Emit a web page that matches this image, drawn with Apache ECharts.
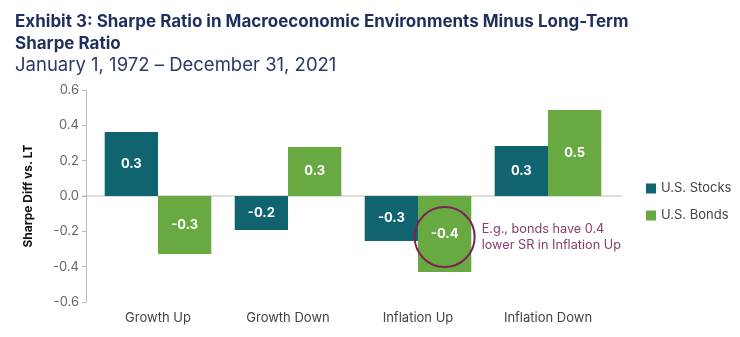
<!DOCTYPE html>
<html><head><meta charset="utf-8">
<script src="https://cdn.jsdelivr.net/npm/echarts@6/dist/echarts.min.js"></script>
<style>html,body{margin:0;padding:0;background:#fff}#c{width:740px;height:337px}</style>
</head><body><div id="c"></div>
<script>
const categories = ['Growth Up', 'Growth Down', 'Inflation Up', 'Inflation Down'];
const stocksValues = [0.362, -0.192, -0.255, 0.283];
const bondsValues = [-0.328, 0.277, -0.43, 0.487];
const stocksLabels = ['0.3', '-0.2', '-0.3', '0.3'];
const bondsLabels = ['-0.3', '0.3', '-0.4', '0.5'];
const yTicks = [-0.6, -0.4, -0.2, 0.0, 0.2, 0.4, 0.6];
const annotationText = 'E.g., bonds have 0.4\nlower SR in Inflation Up';
const annotationCoord = ['Inflation Up', -0.232];

const FONT = 'Inter, "Noto Sans", sans-serif';
const chart = echarts.init(document.getElementById('c'), null, {renderer: 'canvas'});
const labelStyle = (arr) => ({
  show: true, position: 'inside', color: '#fff', fontWeight: 'bold', fontSize: 13, fontFamily: FONT,
  formatter: p => arr[p.dataIndex]
});
chart.setOption({
  animation: false,
  textStyle: {fontFamily: FONT},
  title: [
    {text: 'Exhibit 3: Sharpe Ratio in Macroeconomic Environments Minus Long-Term\nSharpe Ratio', left: 10, top: 6,
     textStyle: {color: '#1f2f5c', fontSize: 17, fontWeight: 'bold', lineHeight: 22, fontFamily: FONT}},
    {text: 'January 1, 1972 – December 31, 2021', left: 10, top: 51,
     textStyle: {color: '#2a3a68', fontSize: 18.5, fontWeight: 'normal', fontFamily: FONT}}
  ],
  legend: {
    orient: 'vertical', left: 641, top: 177, itemWidth: 10, itemHeight: 10, itemGap: 14,
    icon: 'rect', textStyle: {color: '#444', fontSize: 13, fontFamily: FONT},
    data: ['U.S. Stocks', 'U.S. Bonds']
  },
  grid: {left: 93, right: 127, top: 90, bottom: 35},
  xAxis: {
    type: 'category', data: categories,
    axisLine: {show: false}, axisTick: {show: false},
    axisLabel: {position: 'bottom', color: '#444', fontSize: 13, margin: 10, fontFamily: FONT},
    position: 'bottom'
  },
  yAxis: {
    type: 'value', min: -0.6, max: 0.6, interval: 0.2, offset: 7,
    name: 'Sharpe Diff vs. LT', nameLocation: 'middle', nameGap: 52, nameRotate: 90,
    nameTextStyle: {color: '#111', fontSize: 12, fontWeight: 'bold', fontFamily: FONT},
    axisLine: {show: true, lineStyle: {color: '#bbb'}},
    axisTick: {show: true, length: 4, lineStyle: {color: '#bbb'}},
    splitLine: {show: false},
    axisLabel: {color: '#666', fontSize: 13, margin: 7, fontFamily: FONT,
      formatter: v => { const t = yTicks.find(x => Math.abs(x - v) < 1e-9); return (t === undefined ? v : t).toFixed(1); }}
  },
  series: [
    {name: 'U.S. Stocks', type: 'bar', data: stocksValues, barGap: '0%', barCategoryGap: '18%',
     itemStyle: {color: '#0f6470'}, label: labelStyle(stocksLabels)},
    {name: 'U.S. Bonds', type: 'bar', data: bondsValues, barGap: '0%', barCategoryGap: '18%',
     itemStyle: {color: '#69a942'}, label: labelStyle(bondsLabels),
     markPoint: {
       symbol: 'circle', symbolSize: 60, silent: true,
       itemStyle: {color: 'rgba(0,0,0,0)', borderColor: '#7a2358', borderWidth: 2},
       label: {show: true, position: 'right', distance: 6, formatter: annotationText,
         color: '#8a3c6c', fontSize: 12.7, lineHeight: 16, fontFamily: FONT, align: 'left'},
       data: [{coord: annotationCoord}]
     }}
  ]
});
function drawZero() {
  const p0 = chart.convertToPixel({gridIndex: 0}, [0, 0]);
  const grid = chart.getModel().getComponent('grid', 0).coordinateSystem.getRect();
  chart.setOption({graphic: [{type: 'line', silent: true, z: 1,
    shape: {x1: grid.x - 11, y1: p0[1], x2: grid.x + grid.width + 9, y2: p0[1]},
    style: {stroke: '#bbb', lineWidth: 1}}]});
}
drawZero();
</script></body></html>
